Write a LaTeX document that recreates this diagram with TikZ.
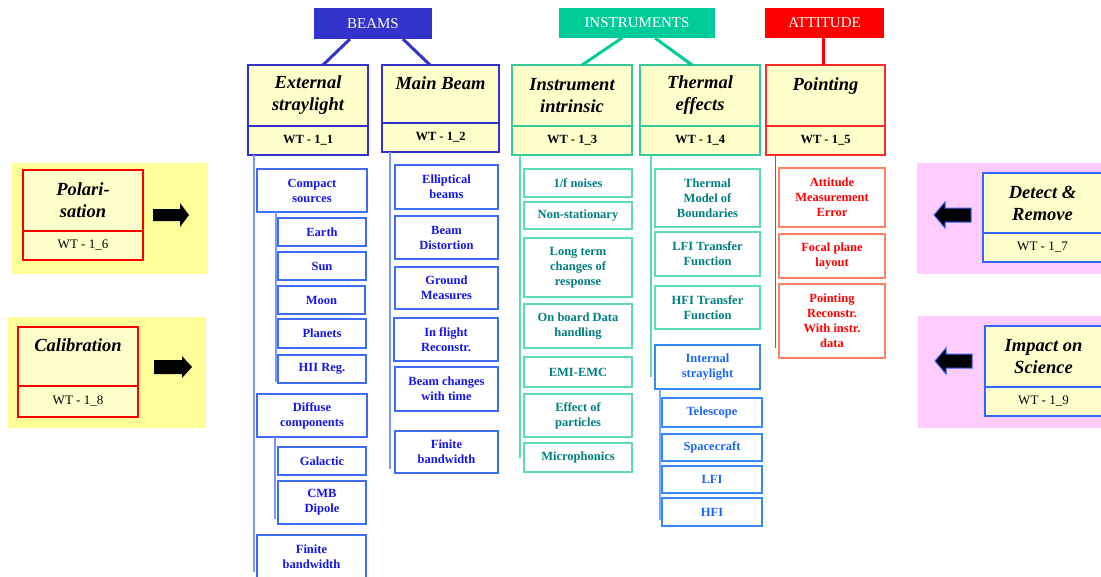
\documentclass[tikz,border=0pt]{standalone}
\usepackage{fontspec}
\setmainfont{Liberation Serif}

% palette
\definecolor{beamhead}{HTML}{3333CC}
\definecolor{beamsubline}{HTML}{3F6CF5}
\definecolor{beamtext}{HTML}{1515EE}
\definecolor{beamvline}{HTML}{7A99FF}
\definecolor{insthead}{HTML}{00CC99}
\definecolor{instline}{HTML}{33CC99}
\definecolor{instsubline}{HTML}{5EDDB0}
\definecolor{insttext}{HTML}{007F7F}
\definecolor{islline}{HTML}{3388FF}
\definecolor{isltext}{HTML}{1A66FF}
\definecolor{atthead}{HTML}{FF0000}
\definecolor{attline}{HTML}{FF2A2A}
\definecolor{attsubline}{HTML}{FF8066}
\definecolor{cream}{HTML}{FFFFCC}
\definecolor{sideyellow}{HTML}{FFFF99}
\definecolor{sidepink}{HTML}{FFCCFF}
\definecolor{sideblue}{HTML}{3366FF}

% box given by its corners (x1,y1) (x2,y2)
\newcommand\cellbox[7]{%
  \pgfmathsetmacro\cbw{#5-#3}\pgfmathsetmacro\cbh{#6-#4}%
  \node[#1, minimum width=\cbw pt, minimum height=\cbh pt] (#2) at ({(#3+#5)/2},{(#4+#6)/2}) {#7};}

\tikzset{
  basebox/.style={inner sep=0pt, outer sep=0pt, align=center},
  header/.style={basebox, text=white, font=\fontsize{15}{18}\selectfont},
  titlebox/.style={basebox, draw, fill=cream, line width=2pt,
    font=\fontsize{18.5}{22}\selectfont\bfseries\itshape},
  wtbox/.style={basebox, draw, fill=cream, line width=2pt,
    font=\fontsize{12.5}{14}\selectfont\bfseries},
  sidewt/.style={basebox, draw, fill=cream, line width=2pt,
    font=\fontsize{13}{15}\selectfont},
  sub/.style={basebox, draw, fill=white, line width=1.4pt,
    font=\fontsize{12.5}{15}\selectfont\bfseries},
  beamsub/.style={sub, draw=beamsubline, text=beamtext},
  instsub/.style={sub, draw=instsubline, text=insttext},
  islsub/.style={sub, draw=islline, text=isltext},
  attsub/.style={sub, draw=attsubline, text=atthead},
  link/.style={line width=3pt},
  vline/.style={line width=1.5pt},
  rarrow/.style={fill=black},
  larrow/.style={fill=black, draw=sideblue, line width=1pt, line join=miter},
}

\begin{document}
\begin{tikzpicture}[x=1pt,y=-1pt]
\useasboundingbox (0,0) rectangle (1101,576);
\clip (0,0) rectangle (1101,576);

% ---------- side panels ----------
\fill[sideyellow] (12,163) rectangle (208,274);
\fill[sideyellow] (8,317) rectangle (206,428);
\fill[sidepink] (917,163) rectangle (1101,274);
\fill[sidepink] (918,316) rectangle (1101,428);

\cellbox{titlebox, draw=red}{pol}{23}{170}{143}{231}{Polari-\\sation}
\cellbox{sidewt, draw=red}{polw}{23}{231}{143}{260}{WT - 1\_6}
\cellbox{titlebox, draw=red}{cal}{18}{327}{138}{386}{Calibration\\~}
\cellbox{sidewt, draw=red}{calw}{18}{386}{138}{417}{WT - 1\_8}
\cellbox{titlebox, draw=sideblue}{det}{983}{173}{1102}{233}{Detect \&\\Remove}
\cellbox{sidewt, draw=sideblue}{detw}{983}{233}{1102}{262}{WT - 1\_7}
\cellbox{titlebox, draw=sideblue}{imp}{985}{326}{1102}{387}{Impact on\\Science}
\cellbox{sidewt, draw=sideblue}{impw}{985}{387}{1102}{416}{WT - 1\_9}

\path[rarrow] (153,209) -- (180,209) -- (180,203) -- (189,215) -- (180,227) -- (180,221) -- (153,221) -- cycle;
\path[rarrow] (154,360) -- (182,360) -- (182,356) -- (192,367) -- (182,378) -- (182,374) -- (154,374) -- cycle;
\path[larrow] (971,208) -- (945,208) -- (945,202) -- (934,215) -- (945,228) -- (945,222) -- (971,222) -- cycle;
\path[larrow] (972,354) -- (946,354) -- (946,348) -- (935,361) -- (946,374) -- (946,368) -- (972,368) -- cycle;

% ---------- group headers ----------
\cellbox{header, fill=beamhead}{beams}{314}{8}{432}{39}{BEAMS}
\cellbox{header, fill=insthead}{instr}{559}{8}{715}{38}{INSTRUMENTS}
\cellbox{header, fill=atthead}{attit}{765}{8}{884}{38}{ATTITUDE}

% ---------- work-package boxes ----------
\cellbox{titlebox, draw=beamhead}{es}{248}{65}{368}{126}{External\\straylight}
\cellbox{wtbox, draw=beamhead}{esw}{248}{126}{368}{155}{WT - 1\_1}
\cellbox{titlebox, draw=beamhead}{mb}{382}{65}{499}{123}{Main Beam\\~}
\cellbox{wtbox, draw=beamhead}{mbw}{382}{123}{499}{152}{WT - 1\_2}
\cellbox{titlebox, draw=instline}{ii}{512}{65}{632}{126}{Instrument\\intrinsic}
\cellbox{wtbox, draw=instline}{iiw}{512}{126}{632}{155}{WT - 1\_3}
\cellbox{titlebox, draw=instline}{th}{640}{65}{760}{126}{Thermal\\effects}
\cellbox{wtbox, draw=instline}{thw}{640}{126}{760}{155}{WT - 1\_4}
\cellbox{titlebox, draw=attline}{pt}{766}{65}{885}{126}{Pointing\\~}
\cellbox{wtbox, draw=attline}{ptw}{766}{126}{885}{155}{WT - 1\_5}

% header-to-box links
\draw[link, beamhead] ([xshift=-23]beams.south) -- ([xshift=15]es.north);
\draw[link, beamhead] ([xshift=30]beams.south) -- ([xshift=-10.5]mb.north);
\draw[link, insthead] ([xshift=-15]instr.south) -- ([xshift=10]ii.north);
\draw[link, insthead] ([xshift=18]instr.south) -- ([xshift=-8]th.north);
\draw[link, atthead] ([xshift=-1.5]attit.south) -- ([xshift=-1.5]attit.south |- pt.north);

% ---------- BEAMS: external straylight ----------
\cellbox{beamsub}{cs}{257}{169}{367}{212}{Compact\\sources}
\cellbox{beamsub}{earth}{278}{218}{366}{246}{Earth}
\cellbox{beamsub}{sun}{278}{252}{366}{280}{Sun}
\cellbox{beamsub}{moon}{278}{286}{365}{314}{Moon}
\cellbox{beamsub}{planets}{278}{319}{366}{348}{Planets}
\cellbox{beamsub}{hii}{278}{355}{366}{383}{HII Reg.}
\cellbox{beamsub}{diff}{257}{394}{367}{437}{Diffuse\\components}
\cellbox{beamsub}{gal}{278}{447}{366}{475}{Galactic}
\cellbox{beamsub}{cmb}{278}{481}{366}{524}{CMB\\Dipole}
\cellbox{beamsub}{fbwa}{257}{535}{366}{579}{Finite\\bandwidth}

\coordinate (esEnd) at (254,572);
\coordinate (csEnd) at (276,382);
\coordinate (diffEnd) at (275,519);
\draw[vline, beamvline] (esw.south -| esEnd) -- (esEnd);
\draw[vline, beamvline] (cs.south -| csEnd) -- (csEnd);
\draw[vline, beamvline] (diff.south -| diffEnd) -- (diffEnd);

% ---------- BEAMS: main beam ----------
\cellbox{beamsub}{ell}{395}{165}{498}{209}{Elliptical\\beams}
\cellbox{beamsub}{bdist}{395}{216}{498}{259}{Beam\\Distortion}
\cellbox{beamsub}{gm}{395}{267}{498}{309}{Ground\\Measures}
\cellbox{beamsub}{ifr}{394}{318}{498}{361}{In flight\\Reconstr.}
\cellbox{beamsub}{bct}{395}{367}{498}{411}{Beam changes\\with time}
\cellbox{beamsub}{fbwb}{395}{431}{498}{473}{Finite\\bandwidth}

\coordinate (mbEnd) at (390,469);
\draw[vline, beamvline] (mbw.south -| mbEnd) -- (mbEnd);

% ---------- INSTRUMENTS: intrinsic ----------
\cellbox{instsub}{noise}{524}{169}{632}{197}{1/f noises}
\cellbox{instsub}{nonst}{524}{202}{632}{229}{Non-stationary}
\cellbox{instsub}{ltc}{524}{238}{632}{297}{Long term\\changes of\\response}
\cellbox{instsub}{obd}{524}{304}{632}{348}{On board Data\\handling}
\cellbox{instsub}{emi}{524}{357}{632}{387}{EMI-EMC}
\cellbox{instsub}{eop}{524}{394}{632}{437}{Effect of\\particles}
\cellbox{instsub}{mic}{524}{443}{632}{472}{Microphonics}

\coordinate (iiEnd) at (520,458);
\draw[vline, instsubline] (iiw.south -| iiEnd) -- (iiEnd);

% ---------- INSTRUMENTS: thermal ----------
\cellbox{instsub}{tmb}{655}{169}{760}{227}{Thermal\\Model of\\Boundaries}
\cellbox{instsub}{lfitf}{655}{232}{760}{276}{LFI Transfer\\Function}
\cellbox{instsub}{hfitf}{655}{286}{760}{329}{HFI Transfer\\Function}
\cellbox{islsub}{isl}{655}{345}{760}{389}{Internal\\straylight}
\cellbox{islsub}{tel}{662}{398}{762}{427}{Telescope}
\cellbox{islsub}{spc}{662}{434}{762}{461}{Spacecraft}
\cellbox{islsub}{lfi}{662}{466}{762}{493}{LFI}
\cellbox{islsub}{hfi}{662}{498}{762}{526}{HFI}

\coordinate (thEnd) at (651,377);
\coordinate (islEnd) at (660,520);
\draw[vline, instsubline] (thw.south -| thEnd) -- (thEnd);
\draw[vline, islline!70] (isl.south -| islEnd) -- (islEnd);

% ---------- ATTITUDE: pointing ----------
\cellbox{attsub}{ame}{779}{168}{885}{227}{Attitude\\Measurement\\Error}
\cellbox{attsub}{fpl}{779}{234}{885}{278}{Focal plane\\layout}
\cellbox{attsub}{prw}{779}{284}{885}{358}{Pointing\\Reconstr.\\With instr.\\data}

\coordinate (ptEnd) at (775,348);
\draw[line width=1pt, attline] (ptw.south -| ptEnd) -- (ptEnd);

\end{tikzpicture}
\end{document}
